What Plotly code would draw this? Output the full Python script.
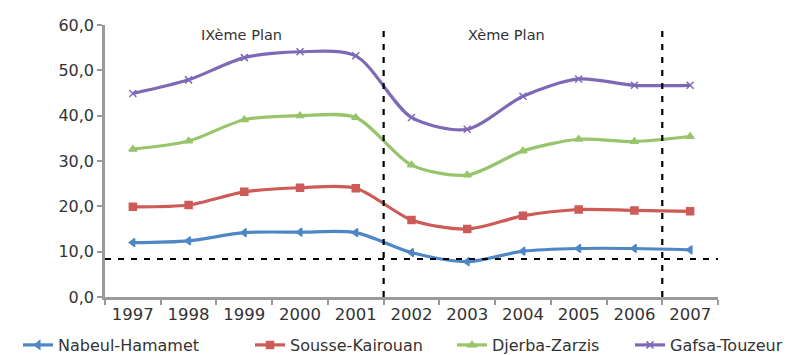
import plotly.graph_objects as go

years = ["1997", "1998", "1999", "2000", "2001", "2002", "2003", "2004", "2005", "2006", "2007"]

nabeul_hamamet = [12.0, 12.4, 14.2, 14.3, 14.2, 9.8, 7.8, 10.1, 10.7, 10.7, 10.4]
sousse_kairouan = [19.9, 20.3, 23.2, 24.1, 24.0, 17.0, 15.0, 17.9, 19.3, 19.1, 18.9]
djerba_zarzis = [32.6, 34.4, 39.1, 40.0, 39.6, 29.1, 26.9, 32.2, 34.8, 34.3, 35.4]
gafsa_touzeur = [44.9, 47.9, 52.8, 54.1, 53.2, 39.6, 37.0, 44.3, 48.1, 46.7, 46.7]

series_names = ["Nabeul-Hamamet", "Sousse-Kairouan", "Djerba-Zarzis", "Gafsa-Touzeur"]
series_values = [nabeul_hamamet, sousse_kairouan, djerba_zarzis, gafsa_touzeur]
series_colors = ["#4F86C6", "#CD5B57", "#98C46A", "#7E69B7"]
series_symbols = ["triangle-left", "square", "triangle-up", "x-thin-open"]

# Reference level and plan boundaries
threshold = 8.4
plan_breaks = [4.5, 9.5]
plan_labels = ["IXème Plan", "Xème Plan"]
plan_label_x = [1.95, 6.7]

# Left edge (px) of each legend entry along the bottom row
legend_left_px = [18, 250, 452, 630]

W, H = 800, 355
font_family = "DejaVu Sans"

fig = go.Figure()
legend_ids = ["legend", "legend2", "legend3", "legend4"]
for name, vals, col, sym, lid in zip(series_names, series_values, series_colors, series_symbols, legend_ids):
    fig.add_trace(go.Scatter(
        x=years, y=vals, name=name, mode="lines+markers", legend=lid,
        line=dict(color=col, width=3.2, shape="spline", smoothing=0.8),
        marker=dict(symbol=sym, size=7, color=col, line=dict(color=col, width=1.5)),
    ))

# Dashed horizontal reference line
fig.add_shape(type="line", xref="x", yref="y", x0=-0.5, x1=10.55, y0=threshold, y1=threshold,
              line=dict(color="black", width=2, dash="6px,7px"))
# Dashed vertical plan separators
for xb in plan_breaks:
    fig.add_shape(type="line", xref="x", yref="y", x0=xb, x1=xb, y0=0, y1=60.4,
                  line=dict(color="black", width=2.2, dash="6px,7px"))

for lbl, xl in zip(plan_labels, plan_label_x):
    fig.add_annotation(x=xl, y=57.9, xref="x", yref="y", text=lbl, showarrow=False,
                       font=dict(size=14.5, color="#333333", family=font_family))

legend_style = dict(orientation="h", xref="container", yref="container",
                    xanchor="left", y=10 / H, yanchor="middle",
                    font=dict(size=16, color="#333333", family=font_family),
                    itemwidth=30, bgcolor="rgba(0,0,0,0)")

fig.update_layout(
    width=W, height=H,
    margin=dict(l=105, r=82, t=25, b=58, autoexpand=False),
    paper_bgcolor="white", plot_bgcolor="white",
    separators=", ",
    font=dict(family=font_family, color="#333333"),
    showlegend=True,
)
for lid, lx in zip(legend_ids, legend_left_px):
    fig.update_layout({lid: dict(legend_style, x=lx / W)})

fig.update_xaxes(
    type="category", range=[-0.5, 10.5],
    showline=True, linecolor="#9A9A9A", linewidth=2.5,
    ticks="outside", tickson="boundaries", ticklen=5, tickcolor="#9A9A9A", tickwidth=1.5,
    tickfont=dict(size=16.5, color="#333333", family=font_family),
    showgrid=False, zeroline=False,
)
fig.update_yaxes(
    range=[0, 60], tick0=0, dtick=10, tickformat=".1f",
    showline=True, linecolor="#9A9A9A", linewidth=2.5,
    ticks="outside", ticklen=5, tickcolor="#9A9A9A", tickwidth=1.5,
    tickfont=dict(size=16, color="#333333", family=font_family),
    showgrid=False, zeroline=False,
)

fig.write_html("out.html")
